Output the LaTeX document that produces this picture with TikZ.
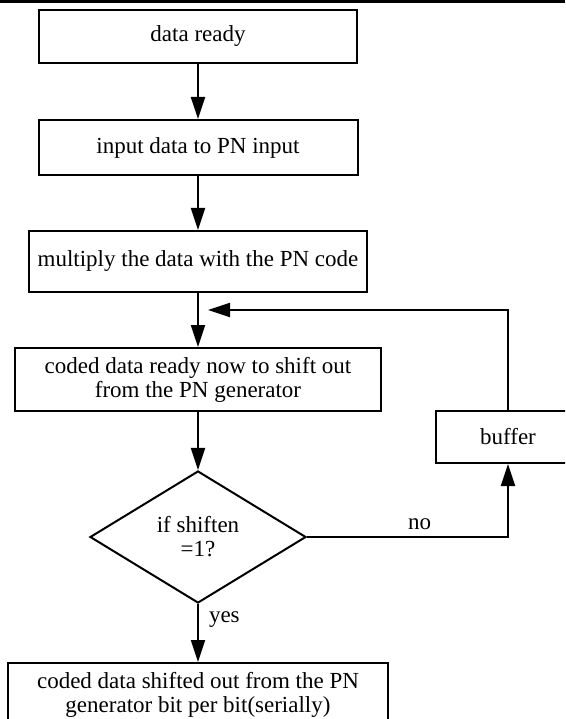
\documentclass[tikz,border=0pt]{standalone}
\usepackage{fontspec}
\setmainfont{Liberation Serif}
\usetikzlibrary{positioning,shapes.geometric,arrows.meta}

\begin{document}
\begin{tikzpicture}[
  x=1pt, y=-1pt,
  node distance=55pt,
  font=\fontsize{23pt}{24pt}\selectfont,
  procbox/.style={draw, line width=2pt, align=center, inner sep=2pt},
  choice/.style={draw, diamond, aspect=1.64, line width=2pt, align=center, inner sep=2pt},
  flow/.style={line width=2pt, -{Triangle[length=22pt,width=14pt]}},
  tag/.style={inner sep=2pt}
]
  \useasboundingbox (0,0) rectangle (565,719);
  \clip (0,0) rectangle (565,719);
  \fill (0,0) rectangle (565,3);

  \node (ready) [procbox, minimum width=318pt, minimum height=53pt] at (198,36.5) {data ready};
  \node (input) [procbox, below=of ready, minimum width=319pt, minimum height=55pt] {input data to PN input};
  \node (mult) [procbox, below=54pt of input, minimum width=338pt, minimum height=61pt] {multiply the data with the PN code};
  \coordinate [below=17pt of mult.south] (join);
  \node (coded) [procbox, below=54pt of mult, minimum width=366pt, minimum height=63pt] {coded data ready now to shift out\\from the PN generator};
  \node (decide) [choice, below=58pt of coded, minimum width=216pt, minimum height=132pt] {if shiften\\=1?};
  \node (buffer) [procbox, below right=-2pt and 53pt of coded.south east, minimum width=144pt, minimum height=52pt] {buffer};
  \node (shifted) [procbox, below=58pt of decide, minimum width=380pt, minimum height=64pt] {coded data shifted out from the PN\\generator bit per bit(serially)};

  \draw[flow] (ready) -- (input);
  \draw[flow] (input) -- (mult);
  \draw[line width=2pt] (mult) -- (join);
  \draw[flow] (join) -- (coded);
  \draw[flow] (coded) -- (decide);
  \draw[flow] (decide) -- node[tag, pos=0.27, right=8pt] {yes} (shifted);
  \draw[flow] (decide.east) -| node[tag, pos=0.28, above=4pt] {no} (buffer.south);
  \draw[flow, shorten >=10pt] (buffer.north) |- (join);

\end{tikzpicture}
\end{document}
